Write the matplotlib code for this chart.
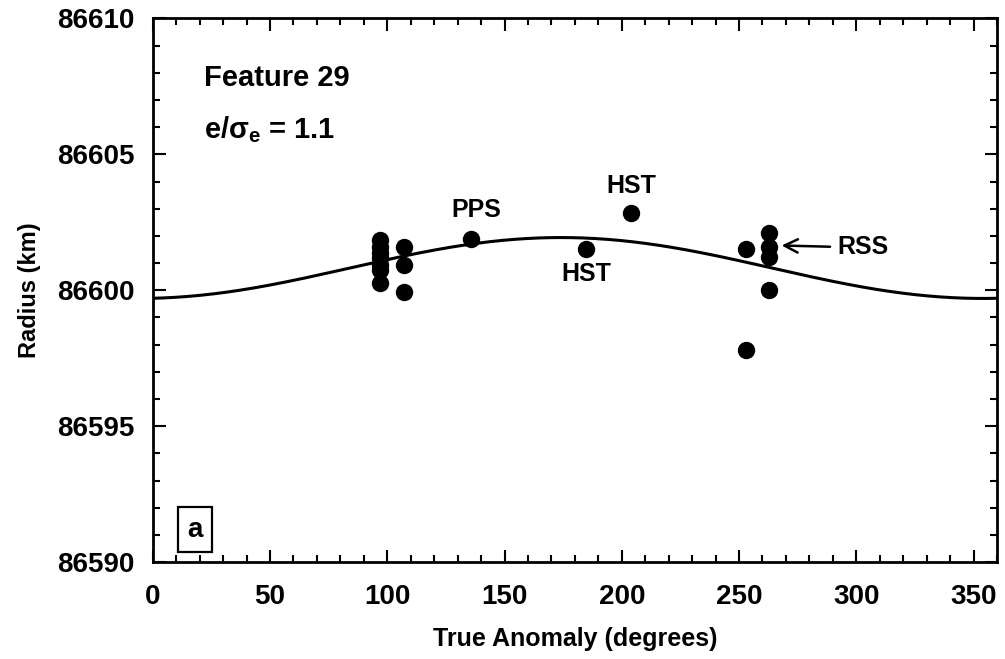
import numpy as np
import matplotlib.pyplot as plt
from matplotlib.ticker import MultipleLocator

plt.rcParams['font.family'] = ['Liberation Sans', 'DejaVu Sans']
plt.rcParams['font.weight'] = 'bold'
plt.rcParams['mathtext.fontset'] = 'custom'
plt.rcParams['mathtext.rm'] = 'Liberation Sans:bold'
plt.rcParams['mathtext.it'] = 'Liberation Sans:bold'

# observations (true anomaly deg, radius km)
anom = [97, 97, 97, 97, 97, 97, 97,
        107, 107, 107,
        135.5, 184.7, 203.9,
        253, 253,
        263, 263, 263, 263]
radius = [86601.85, 86601.59, 86601.37, 86601.18, 86600.92, 86600.74, 86600.26,
          86601.59, 86600.92, 86599.93,
          86601.88, 86601.51, 86602.84,
          86601.51, 86597.82,
          86602.10, 86601.59, 86601.22, 86600.00]

# fitted ellipse
a_km = 86600.82
ae_km = 1.12
peri = 354.0

fig = plt.figure(figsize=(10.05, 6.59), dpi=100)
ax = fig.add_axes([0.152, 0.147, 0.840, 0.825])

f = np.linspace(0, 360, 400)
ax.plot(f, a_km - ae_km * np.cos(np.radians(f - peri)), color='black', lw=2.2)
ax.plot(anom, radius, 'o', color='black', ms=11.5)

ax.set_xlim(0, 360)
ax.set_ylim(86590, 86610)
ax.xaxis.set_major_locator(MultipleLocator(50))
ax.xaxis.set_minor_locator(MultipleLocator(10))
ax.yaxis.set_major_locator(MultipleLocator(5))
ax.yaxis.set_minor_locator(MultipleLocator(1))
ax.tick_params(which='both', direction='in', top=True, right=True, width=1.5)
ax.tick_params(which='major', length=9, labelsize=20)
ax.tick_params(axis='y', which='major', pad=13)
ax.tick_params(axis='x', which='major', pad=16)
ax.tick_params(which='minor', length=5)
ax.ticklabel_format(useOffset=False)
for s in ax.spines.values():
    s.set_linewidth(2)

ax.set_xlabel('True Anomaly (degrees)', fontsize=18, fontweight='bold', labelpad=12)
ax.set_ylabel('Radius (km)', fontsize=17, fontweight='bold', labelpad=12)

ax.text(22, 86607.8, 'Feature 29', fontsize=21, va='center')
ax.text(22, 86605.9, r'e/$\sigma_{\rm e}$ = 1.1', fontsize=21, va='center')
ax.text(138, 86602.95, 'PPS', fontsize=18, ha='center', va='center')
ax.text(204, 86603.85, 'HST', fontsize=18, ha='center', va='center')
ax.text(185, 86600.6, 'HST', fontsize=18, ha='center', va='center')
ax.text(292, 86601.6, 'RSS', fontsize=18, ha='left', va='center')
ax.annotate('', xy=(267, 86601.65), xytext=(290, 86601.6),
            arrowprops=dict(arrowstyle='->', color='black', lw=1.8, mutation_scale=24))
ax.text(18, 86591.2, 'a', fontsize=20, ha='center', va='center',
        bbox=dict(boxstyle='square,pad=0.35', fc='white', ec='black', lw=1.6))

fig.savefig('out.png', dpi=100)
